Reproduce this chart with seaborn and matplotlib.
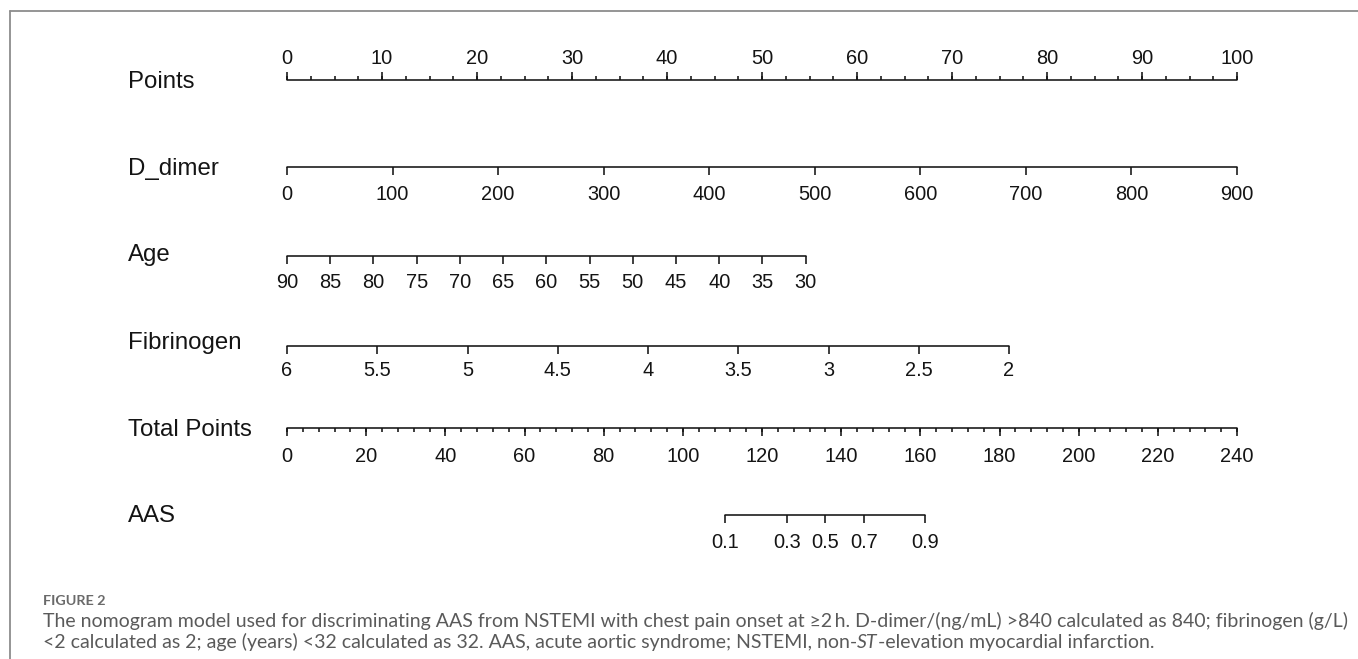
import numpy as np
import pandas as pd
import matplotlib
matplotlib.use("Agg")
import matplotlib.pyplot as plt
from matplotlib.transforms import blended_transform_factory
from matplotlib.lines import Line2D
import seaborn as sns

# ---- nomogram scales -------------------------------------------------------
row_names = ["Points", "D_dimer", "Age", "Fibrinogen", "Total Points", "AAS"]

points_major = [0, 10, 20, 30, 40, 50, 60, 70, 80, 90, 100]
points_minor_step = 2.5

ddimer_ticks = [0, 100, 200, 300, 400, 500, 600, 700, 800, 900]
ddimer_max_points = 100.0      # points reached at D_dimer = 900

age_ticks = [90, 85, 80, 75, 70, 65, 60, 55, 50, 45, 40, 35, 30]
age_max_points = 54.6          # points reached at age 30 (age 90 scores 0)

fib_ticks = [6, 5.5, 5, 4.5, 4, 3.5, 3, 2.5, 2]
fib_max_points = 76.0          # points reached at fibrinogen 2 (6 scores 0)

total_major = [0, 20, 40, 60, 80, 100, 120, 140, 160, 180, 200, 220, 240]
total_minor_step = 4

aas_probs = [0.1, 0.3, 0.5, 0.7, 0.9]
lp_slope = 0.087               # linear predictor per total point
lp_center = 136.0              # total points where predicted AAS = 0.5


def x_points(v):
    return np.asarray(v, float)


def x_ddimer(v):
    return np.asarray(v, float) * ddimer_max_points / max(ddimer_ticks)


def x_age(v):
    return (max(age_ticks) - np.asarray(v, float)) * age_max_points / (max(age_ticks) - min(age_ticks))


def x_fib(v):
    return (max(fib_ticks) - np.asarray(v, float)) * fib_max_points / (max(fib_ticks) - min(fib_ticks))


def x_total(v):
    return np.asarray(v, float) * 100.0 / max(total_major)


def x_aas(p):
    p = np.asarray(p, float)
    tp = lp_center + np.log(p / (1 - p)) / lp_slope
    return x_total(tp)


def fmt(v):
    return f"{v:g}"


# ---- figure ------------------------------------------------------------------
FIG_W, FIG_H, DPI = 1358, 659, 100
sns.set_theme(style="white")
plt.rcParams["font.family"] = ["Liberation Sans", "DejaVu Sans"]

fig = plt.figure(figsize=(FIG_W / DPI, FIG_H / DPI), dpi=DPI)
fig.patch.set_facecolor("white")

# x: nomogram points (0..100) across the axes; y: pixel rows from the top
left_px, right_px = 287, 1237
ax = fig.add_axes([left_px / FIG_W, 0, (right_px - left_px) / FIG_W, 1])
ax.set_xlim(0, 100)
ax.set_ylim(FIG_H, 0)
ax.set_axis_off()

# vertical layout (pixels from the top)
line_y = [80, 167, 256, 346, 428, 515]
name_y = [79, 166, 252, 341, 427, 514]
tick_label_y = [57, 193, 280, 369, 454, 541]

INK = "#141414"
LW = 1.15
major_len = 8
minor_len = 4
tick_fs = 14.4
row_fs = 17.3

scales = [
    # major values, labels, minor values, mapper, tick direction (-1 = up)
    (points_major, [fmt(v) for v in points_major],
     np.arange(0, 100 + 1e-9, points_minor_step), x_points, -1),
    (ddimer_ticks, [fmt(v) for v in ddimer_ticks], [], x_ddimer, 1),
    (age_ticks, [fmt(v) for v in age_ticks], [], x_age, 1),
    (fib_ticks, [fmt(v) for v in fib_ticks], [], x_fib, 1),
    (total_major, [fmt(v) for v in total_major],
     np.arange(0, 240 + 1e-9, total_minor_step), x_total, 1),
    (aas_probs, [fmt(v) for v in aas_probs], [], x_aas, 1),
]

# baselines of every scale, drawn with seaborn
seg = []
for i, (major, labels, minor, fx, d) in enumerate(scales):
    xs = fx(major)
    seg.append({"row": row_names[i], "x": xs.min(), "y": line_y[i]})
    seg.append({"row": row_names[i], "x": xs.max(), "y": line_y[i]})
seg = pd.DataFrame(seg)
sns.lineplot(data=seg, x="x", y="y", units="row", estimator=None,
             color=INK, lw=LW, ax=ax, legend=False, clip_on=False)
ax.set_axis_off()

for i, (major, labels, minor, fx, d) in enumerate(scales):
    y0 = line_y[i]
    xs_major = fx(major)
    if len(minor):
        ax.vlines(fx(minor), y0, y0 + d * minor_len, color=INK, lw=LW, clip_on=False)
    ax.vlines(xs_major, y0, y0 + d * major_len, color=INK, lw=LW, clip_on=False)
    for x, lab in zip(xs_major, labels):
        ax.text(x, tick_label_y[i], lab, ha="center", va="center_baseline",
                fontsize=tick_fs, color=INK, clip_on=False)

# row titles on the left
tr = blended_transform_factory(fig.transFigure, ax.transData)
for i, name in enumerate(row_names):
    fig.text(128 / FIG_W, name_y[i], name, transform=tr, ha="left",
             va="center_baseline", fontsize=row_fs, color=INK)

# frame lines of the figure panel
frame_col = "#8c8c8c"
fig.add_artist(Line2D([10 / FIG_W, 1], [1 - 11 / FIG_H] * 2, transform=fig.transFigure,
                      color=frame_col, lw=1.3))
fig.add_artist(Line2D([10 / FIG_W] * 2, [0, 1 - 11 / FIG_H], transform=fig.transFigure,
                      color=frame_col, lw=1.3))

# caption
cap_col = "#5a5a5a"
cap_font = ["Lato", "DejaVu Sans"]
cap_fs = 14.0
cap_x = 43 / FIG_W
fig.text(cap_x, 1 - 601 / FIG_H, "FIGURE 2", ha="left", va="center",
         fontsize=10.4, fontweight="bold", color="#6a6a6a", family=cap_font)
fig.text(cap_x, 1 - 621 / FIG_H,
         "The nomogram model used for discriminating AAS from NSTEMI with chest pain onset at "
         "\u22652\u2009h. D-dimer/(ng/mL) >840 calculated as 840; fibrinogen (g/L)",
         ha="left", va="center", fontsize=cap_fs, color=cap_col, family=cap_font)
t_a = fig.text(cap_x, 1 - 642 / FIG_H,
               "<2 calculated as 2; age (years) <32 calculated as 32. AAS, acute aortic "
               "syndrome; NSTEMI, non-",
               ha="left", va="center", fontsize=cap_fs, color=cap_col, family=cap_font)
t_b = ax.annotate("ST", xy=(1, 0), xycoords=t_a, ha="left", va="bottom",
                  fontsize=cap_fs, color=cap_col, family=cap_font, style="italic",
                  annotation_clip=False)
ax.annotate("-elevation myocardial infarction.", xy=(1, 0), xycoords=t_b,
            ha="left", va="bottom", fontsize=cap_fs, color=cap_col, family=cap_font,
            annotation_clip=False)

fig.savefig("out.png", dpi=DPI, facecolor="white")
